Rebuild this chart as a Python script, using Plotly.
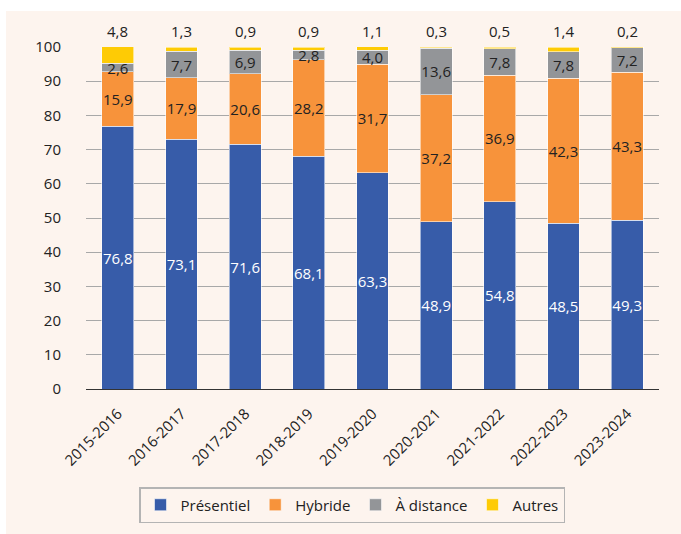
import plotly.graph_objects as go
import numpy as np

years = ["2015-2016", "2016-2017", "2017-2018", "2018-2019", "2019-2020",
         "2020-2021", "2021-2022", "2022-2023", "2023-2024"]
presentiel = [76.8, 73.1, 71.6, 68.1, 63.3, 48.9, 54.8, 48.5, 49.3]
hybride = [15.9, 17.9, 20.6, 28.2, 31.7, 37.2, 36.9, 42.3, 43.3]
distance = [2.6, 7.7, 6.9, 2.8, 4.0, 13.6, 7.8, 7.8, 7.2]
autres = [4.8, 1.3, 0.9, 0.9, 1.1, 0.3, 0.5, 1.4, 0.2]
yticks = [0, 10, 20, 30, 40, 50, 60, 70, 80, 90, 100]

FONT = "Open Sans"
DARK = "#222222"
edge = dict(color="rgba(255,255,255,0.55)", width=1)

fig = go.Figure()
series = [
    ("Présentiel", presentiel, "#375ca9", "white", True),
    ("Hybride", hybride, "#f7933b", DARK, True),
    ("À distance", distance, "#939598", DARK, True),
    ("Autres", autres, "#fecb05", DARK, False),
]
for name, vals, col, tcol, show_txt in series:
    fig.add_trace(go.Bar(
        x=years, y=vals, name=name,
        marker=dict(color=col, line=edge),
        texttemplate="%{y:.1f}" if show_txt else None,
        textposition="inside" if show_txt else "none",
        insidetextanchor="middle",
        constraintext="none",
        textangle=0,
        textfont=dict(family=FONT, size=15, color=tcol),
        hoverinfo="name+y",
    ))

totals = np.array(presentiel) + np.array(hybride) + np.array(distance) + np.array(autres)
annotations = [
    dict(x=yr, y=min(tot, 100), xref="x", yref="y",
         text=f"{v:.1f}".replace(".", ","), showarrow=False,
         yanchor="bottom", xanchor="center", yshift=4,
         font=dict(family=FONT, size=15, color=DARK))
    for yr, tot, v in zip(years, totals, autres)
]

# plot area: x 86..659, y 47..390 (pixels)
L, R, T, B = 86, 22, 47, 144
W, H = 681, 534
pw, ph = W - L - R, H - T - B
def px(x):
    return (x - L) / pw
def py(y):
    return (H - B - y) / ph

fig.update_layout(
    width=W, height=H,
    margin=dict(l=L, r=R, t=T, b=B, pad=0),
    barmode="stack", bargap=0.5,
    separators=", ",
    paper_bgcolor="white",
    plot_bgcolor="rgba(0,0,0,0)",
    font=dict(family=FONT, size=15, color=DARK),
    annotations=annotations,
    shapes=[dict(type="rect", xref="paper", yref="paper",
                 x0=px(6), x1=px(W + 2), y0=py(H + 2), y1=py(11),
                 fillcolor="#fdf4ee", line=dict(width=0), layer="below")],
    legend=dict(orientation="h", xanchor="center", yanchor="top",
                x=px(352), y=py(487),
                bordercolor="#b4b4b4", borderwidth=1.5,
                bgcolor="rgba(0,0,0,0)",
                font=dict(family=FONT, size=15, color=DARK),
                itemwidth=30, traceorder="normal"),
    xaxis=dict(tickangle=-45, showgrid=False, ticks="", showline=False,
               ticklabelstandoff=12,
               tickfont=dict(family=FONT, size=15, color=DARK)),
    yaxis=dict(range=[0, 100], tickvals=yticks, showgrid=True,
               gridcolor="#a8a8a8", gridwidth=1, zeroline=True,
               zerolinecolor="#333333", zerolinewidth=1.2, ticks="",
               showline=False, ticklabelstandoff=24,
               tickfont=dict(family=FONT, size=15, color=DARK)),
)

fig.write_html("out.html", config={"displayModeBar": False},
               post_script="document.body.style.margin='0';document.body.style.overflow='hidden';")
